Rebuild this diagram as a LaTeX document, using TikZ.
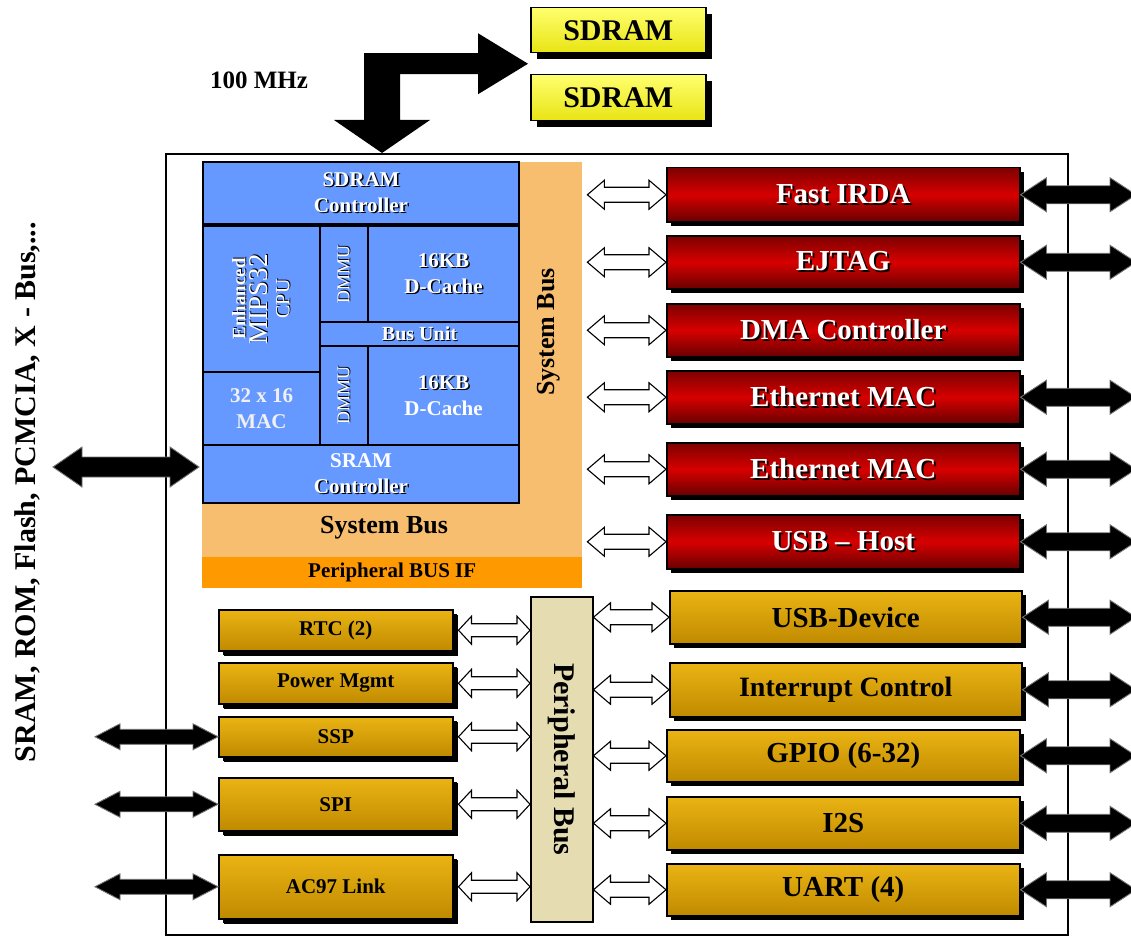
\documentclass[tikz,border=0pt]{standalone}
\usepackage{fontspec}
\setmainfont{Liberation Serif}
\usetikzlibrary{calc,shadows}
\definecolor{cpublue}{RGB}{102,153,255}
\definecolor{sysor}{RGB}{247,190,112}
\definecolor{pbifor}{RGB}{255,153,0}
\definecolor{pbeige}{RGB}{230,220,178}
\definecolor{goldt}{RGB}{234,180,20}
\definecolor{goldb}{RGB}{192,138,0}
\definecolor{redt}{RGB}{125,0,0}
\definecolor{redm}{RGB}{215,0,0}
\definecolor{redb}{RGB}{105,0,0}
\definecolor{ylt}{RGB}{255,255,110}
\definecolor{ylb}{RGB}{232,228,20}
\newcommand\sh[2][1.5pt]{\leavevmode\rlap{\kern#1\raisebox{-#1}{\color{black}#2}}#2}
\newcommand\bx[6]{\node[#1,anchor=north west,minimum width={(#4-#2)*1pt},minimum height={(#5-#3)*1pt}] (#6) at (#2,#3)}
\newcommand\dblarr[6]{\path[#1] let \p1=(#2), \p2=(#3) in (\x1,\y1) -- (\x1+#4,\y1+#5) -- (\x1+#4,\y1+#6) -- (\x2-#4,\y1+#6) -- (\x2-#4,\y1+#5) -- (\x2,\y1) -- (\x2-#4,\y1-#5) -- (\x2-#4,\y1-#6) -- (\x1+#4,\y1-#6) -- (\x1+#4,\y1-#5) -- cycle;}
\tikzset{
  chipbox/.style={draw=black,line width=2pt,inner sep=0pt},
  sysarea/.style={fill=sysor,inner sep=0pt},
  pbifbox/.style={fill=pbifor,inner sep=0pt,font=\bfseries\fontsize{21}{24}\selectfont},
  lbl/.style={inner sep=0pt,font=\bfseries\fontsize{26}{30}\selectfont},
  cell/.style={draw=black,line width=2pt,fill=cpublue,inner sep=0pt,text=white,align=center,font=\bfseries\fontsize{21}{26}\selectfont},
  celltxt/.style={inner sep=0pt,text=white,align=center},
  redbox/.style={draw=black,line width=1.5pt,top color=redt,bottom color=redb,middle color=redm,
     drop shadow={shadow xshift=4pt,shadow yshift=-4pt,opacity=1,fill=black},
     text=white,inner sep=0pt,font=\bfseries\fontsize{29}{33}\selectfont},
  goldbox/.style={draw=black,line width=1.5pt,top color=goldt,bottom color=goldb,
     drop shadow={shadow xshift=4pt,shadow yshift=-4pt,opacity=1,fill=black},
     text=black,inner sep=0pt,font=\bfseries\fontsize{29}{33}\selectfont},
  smallgold/.style={goldbox,drop shadow={shadow xshift=5pt,shadow yshift=-5pt,opacity=1,fill=black},
     font=\bfseries\fontsize{21}{24}\selectfont},
  sdrambox/.style={draw=black,line width=1.5pt,top color=ylt,bottom color=ylb,
     drop shadow={shadow xshift=6pt,shadow yshift=-6pt,opacity=1,fill=black},
     text=black,inner sep=0pt,font=\bfseries\fontsize{30}{34}\selectfont},
  pbusbox/.style={draw=black,line width=1.5pt,fill=pbeige,inner sep=0pt},
  warr/.style={draw=black,fill=white,line width=1.1pt},
  barr/.style={draw=black!55,fill=black,line width=0.9pt},
}
\begin{document}
\begin{tikzpicture}[x=1pt,y=-1pt]
\useasboundingbox (0,0) rectangle (1131,936);
\fill[white] (0,0) rectangle (1131,936);

% chip outline
\bx{chipbox}{165}{153}{1067}{934}{chip} {};

% external memories
\bx{sdrambox}{530}{7}{705}{52}{sd1} {SDRAM};
\bx{sdrambox}{530}{74}{705}{120}{sd2} {SDRAM};
\node[font=\bfseries\fontsize{25}{28}\selectfont,inner sep=0pt] (mhz) at (259,80) {100 MHz};

% big bent arrow
\coordinate (ax) at (382,0);
\coordinate (atip) at ([xshift=-2pt]$(sd1.south west)!.5!(sd2.north west)$);
\coordinate (dtip) at (chip.north -| ax);
\path[fill=black] let \p1=(atip), \p2=(dtip) in
  (\x2-18pt,\y1+10.5pt) -- (\x1-50pt,\y1+10.5pt) -- (\x1-50pt,\y1+30.5pt) -- (\x1,\y1)
  -- (\x1-50pt,\y1-30.5pt) -- (\x1-50pt,\y1-10.5pt) -- (\x2+18pt,\y1-10.5pt)
  -- (\x2+18pt,\y2+33pt) -- (\x2+48pt,\y2+33pt) -- (\x2,\y2) -- (\x2-48pt,\y2+33pt)
  -- (\x2-18pt,\y2+33pt) -- cycle;

% system bus area
\bx{sysarea}{202}{162}{582}{557}{sysbus} {};
\bx{pbifbox}{202}{557}{582}{588}{pbif} {Peripheral BUS IF};
\node[lbl,rotate=90] (sbv) at (549,332) {System Bus};
\node[lbl] (sbh) at (384,528) {System Bus};

% CPU core cells
\bx{cell}{202}{161}{518}{223}{sdc} {\sh{SDRAM}\\\sh{Controller}};
\bx{cell}{202}{225}{319}{371}{cpu} {};
\node[celltxt,rotate=90,font=\fontsize{20}{22}\selectfont] (cpul) at (cpu.center)
  {{\bfseries\fontsize{19}{22}\selectfont\sh[1pt]{Enhanced}}\\{\fontsize{27}{22}\selectfont\sh[1pt]{MIPS32}}\\{\fontsize{20}{22}\selectfont\sh[1pt]{CPU}}};
\bx{cell}{202}{371}{319}{444}{mac} {\textcolor{white!88!gray}{32 x 16}\\\textcolor{white!88!gray}{MAC}};
\bx{cell}{319}{225}{367}{321}{dm1} {};
\node[celltxt,rotate=90,font=\fontsize{18}{20}\selectfont] (dm1l) at (dm1.center) {\sh[1pt]{DMMU}};
\bx{cell}{367}{225}{518}{321}{dc1} {\sh{16KB}\\\sh{D-Cache}};
\bx{cell,font=\bfseries\fontsize{20}{22}\selectfont}{319}{321}{518}{345}{bu} {\sh[1pt]{Bus Unit}};
\bx{cell}{319}{345}{367}{444}{dm2} {};
\node[celltxt,rotate=90,font=\fontsize{18}{20}\selectfont] (dm2l) at (dm2.center) {\sh[1pt]{DMMU}};
\bx{cell}{367}{345}{518}{444}{dc2} {\sh{16KB}\\D-Cache};
\bx{cell}{202}{444}{518}{502}{src} {SRAM\\\sh{Controller}};

% red peripherals (system bus)
\bx{redbox}{666}{167}{1019}{221}{fir} {\sh[2pt]{Fast IRDA}};
\bx{redbox}{666}{235}{1019}{288}{ejt} {\sh[2pt]{EJTAG}};
\bx{redbox}{666}{303}{1019}{356}{dma} {\sh[2pt]{DMA Controller}};
\bx{redbox}{666}{370}{1019}{423}{eth1} {\sh[2pt]{Ethernet MAC}};
\bx{redbox}{666}{442}{1019}{495}{eth2} {\sh[2pt]{Ethernet MAC}};
\bx{redbox}{666}{514}{1019}{568}{usbh} {\sh[2pt]{USB – Host}};

% peripheral bus
\bx{pbusbox}{530}{596}{592}{921}{pbus} {};
\node[lbl,rotate=-90,font=\bfseries\fontsize{30}{34}\selectfont] (pbl) at (pbus.center) {Peripheral Bus};

% gold peripherals right
\bx{goldbox}{669}{590}{1021}{643}{usbd} {USB-Device};
\bx{goldbox,font=\bfseries\fontsize{28}{32}\selectfont}{669}{662}{1021}{716}{irq} {Interrupt Control};
\bx{goldbox}{666}{729}{1019}{781}{gpio} {GPIO (6-32)};
\bx{goldbox}{666}{796}{1019}{849}{i2s} {I2S};
\bx{goldbox}{666}{863}{1019}{915}{uart} {UART (4)};

% gold peripherals left
\bx{smallgold}{218}{609}{452}{650}{rtc} {RTC (2)};
\bx{smallgold}{218}{662}{452}{703}{pwr} {Power Mgmt};
\bx{smallgold}{218}{716}{452}{756}{ssp} {SSP};
\bx{smallgold}{218}{777}{452}{830}{spi} {SPI};
\bx{smallgold}{218}{854}{452}{918}{ac97} {AC97 Link};

% external bus label
\node[lbl,rotate=90,font=\bfseries\fontsize{30}{34}\selectfont] (extl) at (27,492) {SRAM, ROM, Flash, PCMCIA, X - Bus,...};

% free ends
\coordinate (rgt) at (1136,0);
\coordinate (lft) at (95,0);
\coordinate (bigl) at (53,0);
\coordinate (srcw) at ([yshift=7pt,xshift=-3pt]src.west);
\coordinate (sbe) at ([xshift=5pt]sysbus.east);

% white arrows system bus -> red
\foreach \k in {fir,ejt,dma,eth1,eth2,usbh}{
  \dblarr{warr}{sbe |- \k.west}{\k.west}{17pt}{14.5pt}{7.5pt}
}
% white arrows peripheral bus -> right gold
\foreach \k in {usbd,irq,gpio,i2s,uart}{
  \dblarr{warr}{pbus.east |- \k.west}{\k.west}{17pt}{14.5pt}{7.5pt}
}
% white arrows left gold -> peripheral bus
\foreach \k in {rtc,pwr,ssp,spi,ac97}{
  \dblarr{warr}{[xshift=5pt]\k.east}{pbus.west |- \k.east}{13pt}{14pt}{6.5pt}
}
% black external arrows right
\foreach \k in {fir,ejt,eth1,eth2,usbh,usbd,irq,gpio,i2s,uart}{
  \dblarr{barr}{\k.east}{rgt |- \k.east}{26pt}{17pt}{9pt}
}
% black external arrows left
\foreach \k in {ssp,spi,ac97}{
  \dblarr{barr}{lft |- \k.west}{\k.west}{25pt}{13pt}{7.5pt}
}
% big memory bus arrow
\dblarr{barr}{bigl |- srcw}{srcw}{29pt}{20pt}{10pt}
\end{tikzpicture}
\end{document}
